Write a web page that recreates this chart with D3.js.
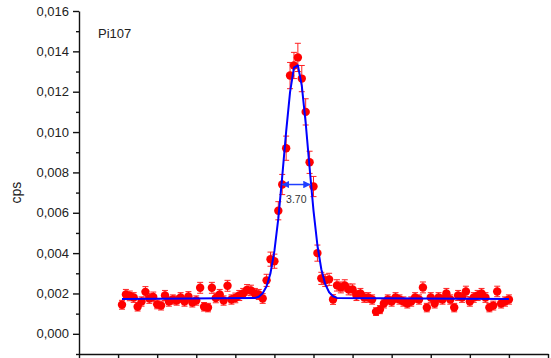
<!DOCTYPE html>
<html>
<head>
<meta charset="utf-8">
<script src="https://cdn.jsdelivr.net/npm/d3@7"></script>
<style>
  body { margin: 0; background: #fff; }
  svg { display: block; font-family: "Liberation Sans", Arial, sans-serif; }
</style>
</head>
<body>
<svg width="551" height="358"></svg>
<script>
var xs = [
  5.5, 6, 6.5, 7, 7.5, 8, 8.5, 9, 9.5, 10,
  10.5, 11, 11.5, 12, 12.5, 13, 13.5, 14, 14.5, 15,
  15.5, 16, 16.5, 17, 17.5, 18, 18.5, 19, 19.5, 20,
  20.5, 21, 21.5, 22, 22.5, 23, 23.5, 24, 24.5, 25,
  25.5, 26, 26.5, 27, 27.5, 28, 28.5, 29, 29.5, 30,
  30.5, 31, 31.5, 32, 32.5, 33, 33.5, 34, 34.5, 35,
  35.5, 36, 36.5, 37, 37.5, 38, 38.5, 39, 39.5, 40,
  40.5, 41, 41.5, 42, 42.5, 43, 43.5, 44, 44.5, 45,
  45.5, 46, 46.5, 47, 47.5, 48, 48.5, 49, 49.5, 50,
  50.5, 51, 51.5, 52, 52.5, 53, 53.5, 54, 54.5, 55
];

var cps = [
  0.00144, 0.00195, 0.00188, 0.00180, 0.00134, 0.00160, 0.00208, 0.00175, 0.00183, 0.00146,
  0.00140, 0.00190, 0.00160, 0.00170, 0.00165, 0.00180, 0.00160, 0.00185, 0.00155, 0.00165,
  0.00228, 0.00134, 0.00130, 0.00228, 0.00178, 0.00195, 0.00165, 0.00238, 0.00170, 0.00178,
  0.00190, 0.00200, 0.00218, 0.00215, 0.00200, 0.00195, 0.00175, 0.00265, 0.00370, 0.00360,
  0.00610, 0.00740, 0.00920, 0.01280, 0.01330, 0.01370, 0.01265, 0.01100, 0.00850, 0.00730,
  0.00400, 0.00275, 0.00265, 0.00270, 0.00170, 0.00240, 0.00230, 0.00240, 0.00220, 0.00220,
  0.00190, 0.00200, 0.00180, 0.00180, 0.00170, 0.00110, 0.00120, 0.00150, 0.00170, 0.00160,
  0.00180, 0.00170, 0.00160, 0.00150, 0.00160, 0.00180, 0.00170, 0.00230, 0.00130, 0.00180,
  0.00150, 0.00180, 0.00170, 0.00200, 0.00170, 0.00130, 0.00190, 0.00180, 0.00210, 0.00160,
  0.00180, 0.00190, 0.00200, 0.00180, 0.00130, 0.00140, 0.00210, 0.00150, 0.00160, 0.00170
];

var err = [
  0.00022, 0.00025, 0.00024, 0.00024, 0.00021, 0.00023, 0.00026, 0.00024, 0.00024, 0.00022,
  0.00022, 0.00025, 0.00023, 0.00023, 0.00023, 0.00024, 0.00023, 0.00024, 0.00022, 0.00023,
  0.00027, 0.00021, 0.00021, 0.00027, 0.00024, 0.00025, 0.00023, 0.00027, 0.00023, 0.00024,
  0.00025, 0.00025, 0.00026, 0.00026, 0.00025, 0.00025, 0.00024, 0.00030, 0.00035, 0.00035,
  0.00045, 0.00050, 0.00060, 0.00065, 0.00065, 0.00070, 0.00065, 0.00065, 0.00055, 0.00050,
  0.00040, 0.00030, 0.00030, 0.00030, 0.00024, 0.00028, 0.00027, 0.00028, 0.00027, 0.00027,
  0.00025, 0.00025, 0.00024, 0.00024, 0.00023, 0.00019, 0.00020, 0.00022, 0.00023, 0.00023,
  0.00024, 0.00023, 0.00023, 0.00022, 0.00023, 0.00024, 0.00023, 0.00027, 0.00021, 0.00024,
  0.00022, 0.00024, 0.00023, 0.00025, 0.00023, 0.00021, 0.00025, 0.00024, 0.00026, 0.00023,
  0.00024, 0.00025, 0.00025, 0.00024, 0.00021, 0.00022, 0.00026, 0.00022, 0.00023, 0.00023
];

// fitted peak
var fitX = [5.5, 22.5, 23, 23.5, 24, 24.5, 25, 25.5, 26, 26.5, 27, 27.5, 28, 28.5, 29, 29.5, 30, 30.5, 31, 31.5, 32, 32.5, 33, 55];
var fitY = [0.00173, 0.00177, 0.00184, 0.00201, 0.00236, 0.00301, 0.00411, 0.00572, 0.00779, 0.01002, 0.01198, 0.01319, 0.01331, 0.01230, 0.01045, 0.00823, 0.00611, 0.00439, 0.00320, 0.00246, 0.00206, 0.00186, 0.00178, 0.00173];

var yTicks = [0, 0.002, 0.004, 0.006, 0.008, 0.010, 0.012, 0.014, 0.016];
var yMinorTicks = [-0.001, 0.001, 0.003, 0.005, 0.007, 0.009, 0.011, 0.013, 0.015];
var xTicks = [0, 5, 10, 15, 20, 25, 30, 35, 40, 45, 50, 55, 60];

var sampleName = "Pi107";
var yLabel = "cps";
var fwhm = 3.70;
var fwhmCenter = 27.8;
var halfMax = 0.0074;

var svg = d3.select("svg");
var padding = {
  top: 11,
  right: 3,
  bottom: 4,
  left: 79
};
var width = +svg.attr("width");
var height = +svg.attr("height");

var data = xs.map((x, i) => ({ x: x, y: cps[i], e: err[i] }));
var fit = fitX.map((x, i) => ({ x: x, y: fitY[i] }));

var xScale =
  d3.scaleLinear()
    .domain([0, 60])
    .range([padding.left, width - padding.right]);

var yScale =
  d3.scaleLinear()
    .domain([-0.001, 0.016])
    .range([height - padding.bottom, padding.top]);

// axes
var yAxis =
  svg.append("g")
    .attr("transform", `translate(${padding.left}, 0)`)
    .call(d3.axisLeft(yScale)
      .tickValues(yTicks)
      .tickSize(6)
      .tickSizeOuter(0)
      .tickPadding(4)
      .tickFormat(d => d3.format(".3f")(d).replace(".", ",")));

svg.append("g")
    .attr("transform", `translate(${padding.left}, 0)`)
    .call(d3.axisLeft(yScale)
      .tickValues(yMinorTicks)
      .tickSize(3)
      .tickSizeOuter(0)
      .tickFormat(""))
    .select(".domain").remove();

svg.append("g")
    .attr("transform", `translate(0, ${height - padding.bottom})`)
    .call(d3.axisBottom(xScale)
      .tickValues(xTicks)
      .tickSize(5)
      .tickSizeOuter(0)
      .tickFormat(""));

svg.selectAll(".domain, .tick line")
    .attr("stroke", "#111")
    .attr("stroke-width", 1.4);

yAxis.selectAll("text")
    .attr("font-size", 13)
    .attr("fill", "#222");

svg.append("text")
    .attr("transform", `translate(21, ${yScale(0.007)}) rotate(-90)`)
    .attr("text-anchor", "middle")
    .attr("font-size", 14)
    .attr("fill", "#222")
    .text(yLabel);

svg.append("text")
    .attr("x", padding.left + 19)
    .attr("y", 38)
    .attr("font-size", 13)
    .attr("fill", "#222")
    .text(sampleName);

// error bars
var bars =
  svg.append("g")
    .selectAll("g")
    .data(data)
    .enter()
    .append("g")
      .attr("stroke", "#ff2020")
      .attr("stroke-width", 1);

bars.append("line")
    .attr("x1", d => xScale(d.x))
    .attr("x2", d => xScale(d.x))
    .attr("y1", d => yScale(d.y - d.e))
    .attr("y2", d => yScale(d.y + d.e));

bars.append("line")
    .attr("x1", d => xScale(d.x) - 3)
    .attr("x2", d => xScale(d.x) + 3)
    .attr("y1", d => yScale(d.y + d.e))
    .attr("y2", d => yScale(d.y + d.e));

bars.append("line")
    .attr("x1", d => xScale(d.x) - 3)
    .attr("x2", d => xScale(d.x) + 3)
    .attr("y1", d => yScale(d.y - d.e))
    .attr("y2", d => yScale(d.y - d.e));

// points
svg.append("g")
  .selectAll("circle")
  .data(data)
  .enter()
  .append("circle")
    .attr("cx", d => xScale(d.x))
    .attr("cy", d => yScale(d.y))
    .attr("r", 4.2)
    .attr("fill", "#ff0000");

// fit curve
var line =
  d3.line()
    .x(d => xScale(d.x))
    .y(d => yScale(d.y));

svg.append("path")
    .datum(fit)
    .attr("d", line)
    .attr("fill", "none")
    .attr("stroke", "#0000ff")
    .attr("stroke-width", 2)
    .attr("stroke-linejoin", "round");

// FWHM marker
svg.append("defs")
  .append("marker")
    .attr("id", "arrow")
    .attr("viewBox", "0 0 10 10")
    .attr("refX", 10)
    .attr("refY", 5)
    .attr("markerWidth", 5)
    .attr("markerHeight", 5)
    .attr("orient", "auto-start-reverse")
  .append("path")
    .attr("d", "M0,0L10,5L0,10z")
    .attr("fill", "#1f3fff");

svg.append("line")
    .attr("x1", xScale(fwhmCenter - fwhm / 2))
    .attr("x2", xScale(fwhmCenter + fwhm / 2))
    .attr("y1", yScale(halfMax))
    .attr("y2", yScale(halfMax))
    .attr("stroke", "#1f3fff")
    .attr("stroke-width", 1.5)
    .attr("marker-start", "url(#arrow)")
    .attr("marker-end", "url(#arrow)");

svg.append("text")
    .attr("x", xScale(fwhmCenter))
    .attr("y", yScale(halfMax) + 18)
    .attr("text-anchor", "middle")
    .attr("font-size", 10.5)
    .attr("fill", "#333")
    .text(fwhm.toFixed(2));
</script>
</body>
</html>
